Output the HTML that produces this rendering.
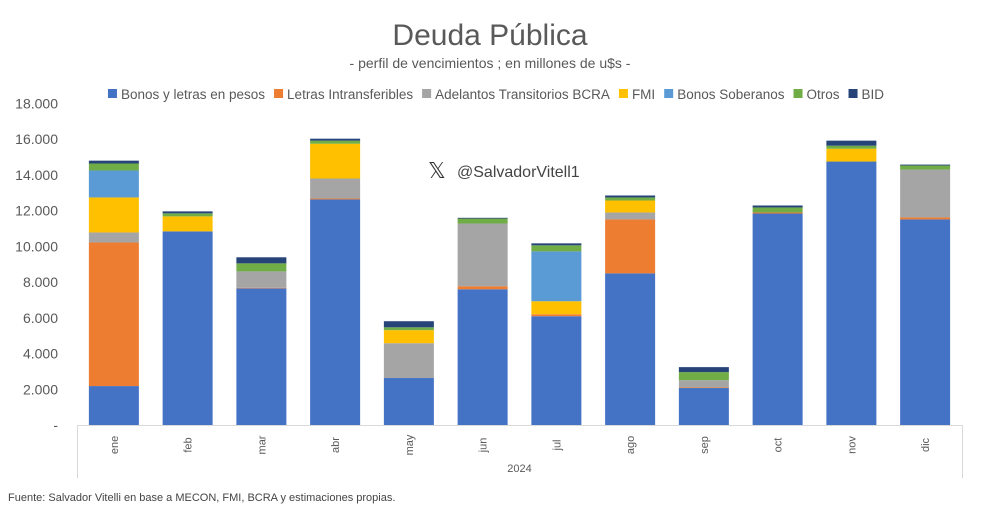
<!DOCTYPE html>
<html><head><meta charset="utf-8">
<style>
body{margin:0;background:#fff;}
svg{display:block;font-family:"Liberation Sans",sans-serif;}
</style></head>
<body>
<svg id="chart" width="1000" height="510" viewBox="0 0 1000 510">
<text x="490" y="45" text-anchor="middle" font-size="30" fill="#595959">Deuda Pública</text>
<text x="490" y="68" text-anchor="middle" font-size="14" fill="#595959">- perfil de vencimientos ; en millones de u$s -</text>
<g id="legend"></g>
<g id="grid"></g>
<g id="bars"></g>
<g id="axes"></g>
<g>
<text x="428" y="178" font-size="22" fill="#333">𝕏</text>
<text x="457" y="177" font-size="16" fill="#444">@SalvadorVitell1</text>
</g>
<text x="8" y="501" font-size="11" fill="#444">Fuente: Salvador Vitelli en base a MECON, FMI, BCRA y estimaciones propias.</text>
</svg>
<script>
const months=["ene","feb","mar","abr","may","jun","jul","ago","sep","oct","nov","dic"];
const seriesNames=["Bonos y letras en pesos","Letras Intransferibles","Adelantos Transitorios BCRA","FMI","Bonos Soberanos","Otros","BID"];
const seriesColors=["#4472C4","#ED7D31","#A5A5A5","#FFC000","#5B9BD5","#70AD47","#264478"];
const bonosPesos=[2180,10840,7650,12630,2630,7600,6090,8490,2070,11840,14750,11510];
const letrasIntransf=[8040,0,30,50,0,170,110,3020,40,60,0,110];
const adelantos=[560,0,920,1120,1950,3510,0,390,400,0,0,2680];
const fmi=[1960,840,0,1950,730,0,730,670,0,0,720,0];
const bonosSoberanos=[1510,0,0,0,0,0,2790,0,0,0,0,0];
const otros=[390,170,450,170,160,280,340,170,450,280,170,230];
const bid=[160,110,340,110,340,40,110,110,280,110,280,50];
const series=[bonosPesos,letrasIntransf,adelantos,fmi,bonosSoberanos,otros,bid];
const yTicks=[0,2000,4000,6000,8000,10000,12000,14000,16000,18000];
const yTickLabels=["-","2.000","4.000","6.000","8.000","10.000","12.000","14.000","16.000","18.000"];
const NS="http://www.w3.org/2000/svg";
const x0=77,x1=962,yBase=425,yTop=103.5,yMax=18000,bw=50;
const band=(x1-x0)/months.length;
const yScale=v=>yBase-v/yMax*(yBase-yTop);
const xCenter=i=>x0+band*(i+0.5);
function mk(tag,attrs,parent){const e=document.createElementNS(NS,tag);for(const k in attrs)e.setAttribute(k,attrs[k]);parent.appendChild(e);return e;}
const axes=document.getElementById('axes');
yTicks.forEach((t,i)=>{
  const tx=mk('text',{x:58,y:yScale(t)+5,'text-anchor':'end','font-size':14,fill:'#595959'},axes);
  tx.textContent=yTickLabels[i];
  
  
});
const ax=mk('line',{x1:x0,y1:yBase+0.5,x2:x1,y2:yBase+0.5,stroke:'#D9D9D9'},axes);


[x0,x1].forEach(x=>{const l=mk('line',{x1:x+0.5,y1:yBase,x2:x+0.5,y2:478,stroke:'#D9D9D9'},axes);

});
months.forEach((m,i)=>{
  const cx=xCenter(i);
  const t=mk('text',{x:0,y:0,'text-anchor':'middle','font-size':11,fill:'#595959',transform:`translate(${cx+4},445) rotate(-90)`},axes);
  t.textContent=m;
  
  
});
const yr=mk('text',{x:(x0+x1)/2,y:472,'text-anchor':'middle','font-size':11,fill:'#595959'},axes);
yr.textContent="2024";


const bars=document.getElementById('bars');
months.forEach((m,i)=>{
  let cum=0;
  series.forEach((s,j)=>{
    const v=s[i];if(!v)return;
    const yt=yScale(cum+v),yb=yScale(cum);
    const r=mk('rect',{x:xCenter(i)-bw/2,y:yt,width:bw,height:yb-yt,fill:seriesColors[j]},bars);
    
    
    cum+=v;
  });
});
const legend=document.getElementById('legend');
let lxCur=0;
const items=[];
seriesNames.forEach((n,j)=>{
  const r=mk('rect',{x:0,y:89,width:9,height:9,fill:seriesColors[j]},legend);
  
  
  const t=mk('text',{x:0,y:99,'font-size':13.5,fill:'#595959'},legend);
  t.textContent=n;
  
  
  const w=t.getComputedTextLength();
  items.push([r,t,lxCur]);
  lxCur+=13+w+9;
});
const total=lxCur-9;
const start=496-total/2;
items.forEach(([r,t,o])=>{r.setAttribute('x',start+o);t.setAttribute('x',start+o+13);});
</script>
</body></html>
